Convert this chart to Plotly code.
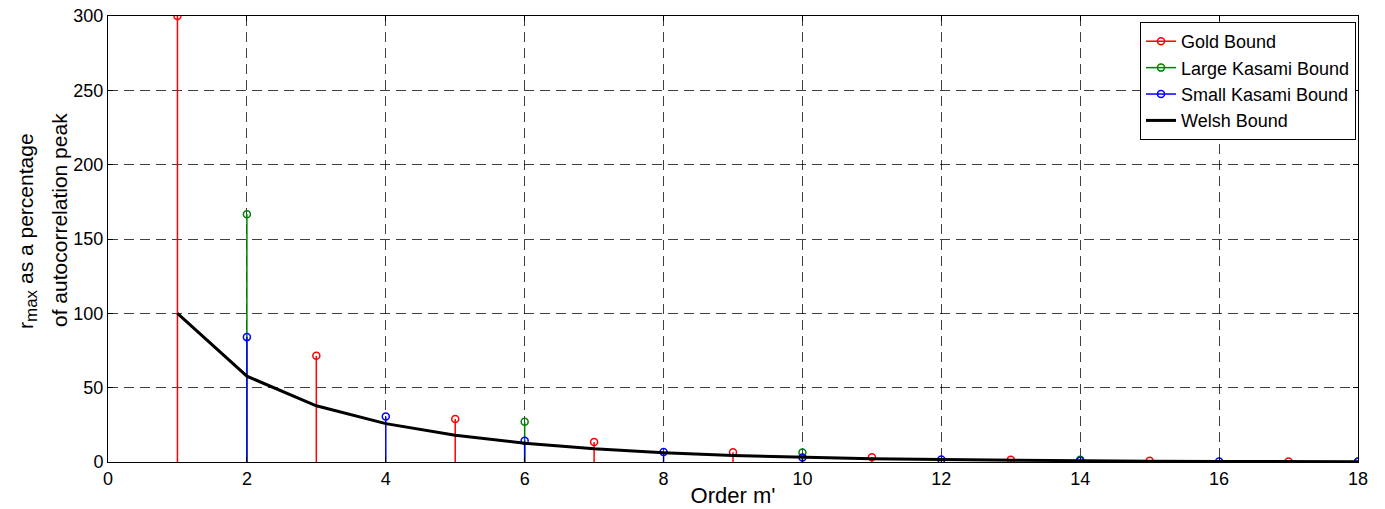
import plotly.graph_objects as go

gold_m = [1, 3, 5, 7, 9, 11, 13, 15, 17]
gold_v = [300, 71.4, 29.0, 13.4, 6.5, 3.2, 1.57, 0.78, 0.39]

lk_m = [2, 6, 10, 14, 18]
lk_v = [166.7, 27.0, 6.35, 1.57, 0.39]

sk_m = [2, 4, 6, 8, 10, 12, 14, 16, 18]
sk_v = [84.0, 30.6, 14.3, 6.7, 3.1, 1.6, 0.79, 0.39, 0.2]

welsh_m = list(range(1, 19))
welsh_v = [100, 57.7, 37.8, 25.8, 18.0, 12.6, 8.9, 6.3, 4.4, 3.1,
           2.2, 1.6, 1.1, 0.78, 0.55, 0.39, 0.28, 0.2]

FONT = "Liberation Sans, Arial, sans-serif"

fig = go.Figure()


def add_stem(ms, vs, color, name):
    sx, sy = [], []
    for m, v in zip(ms, vs):
        sx += [m, m, None]
        sy += [0, v, None]
    fig.add_trace(go.Scatter(x=sx, y=sy, mode="lines", line=dict(color=color, width=1.5),
                             showlegend=False, legendgroup=name, hoverinfo="skip"))
    mx, my = [], []
    for m, v in zip(ms, vs):
        mx += [m, None]
        my += [v, None]
    fig.add_trace(go.Scatter(x=mx, y=my, mode="lines+markers", name=name, legendgroup=name,
                             line=dict(color=color, width=1.5), connectgaps=False,
                             marker=dict(symbol="circle-open", size=7, color=color,
                                         line=dict(width=1.5, color=color))))


add_stem(gold_m, gold_v, "#ff0000", "Gold Bound")
add_stem(lk_m, lk_v, "#008000", "Large Kasami Bound")
add_stem(sk_m, sk_v, "#0000ff", "Small Kasami Bound")

fig.add_trace(go.Scatter(x=welsh_m, y=welsh_v, mode="lines", name="Welsh Bound",
                         line=dict(color="black", width=3)))

axis_common = dict(showline=True, linecolor="black", linewidth=1, mirror="ticks",
                   ticks="inside", ticklen=5, tickcolor="black", automargin=False,
                   showgrid=True, gridcolor="rgba(0,0,0,0.75)", griddash="10px,6px", gridwidth=1,
                   zeroline=False, tickfont=dict(family=FONT, size=18, color="black"))

fig.update_xaxes(range=[0, 18], dtick=2, tick0=0,
                 title=dict(text="Order m'", font=dict(family=FONT, size=22, color="black"),
                            standoff=0),
                 **axis_common)
fig.update_yaxes(range=[0, 300], dtick=50, tick0=0, **axis_common)

# y-axis title as two rotated lines
PW = 1250.0
PH = 446.0
fig.add_annotation(text='r<sub><span style="font-size:17px">max</span></sub> as a percentage',
                   xref="paper", yref="paper", x=(28 - 108) / PW, y=(462 - 231) / PH,
                   xanchor="center", yanchor="middle", textangle=-90, showarrow=False,
                   font=dict(family=FONT, size=21, color="black"))
fig.add_annotation(text="of autocorrelation peak",
                   xref="paper", yref="paper", x=(59 - 108) / PW, y=(462 - 220) / PH,
                   xanchor="center", yanchor="middle", textangle=-90, showarrow=False,
                   font=dict(family=FONT, size=21, color="black"))

fig.update_layout(
    width=1385, height=509,
    margin=dict(l=108, r=27, t=16, b=47),
    paper_bgcolor="white", plot_bgcolor="white",
    font=dict(family=FONT, color="black"),
    legend=dict(x=0.9984, y=0.9865, xanchor="right", yanchor="top",
                bgcolor="white", bordercolor="black", borderwidth=1,
                font=dict(family=FONT, size=18, color="black"),
                tracegroupgap=0, itemwidth=30),
)

fig.write_html("out.html")
